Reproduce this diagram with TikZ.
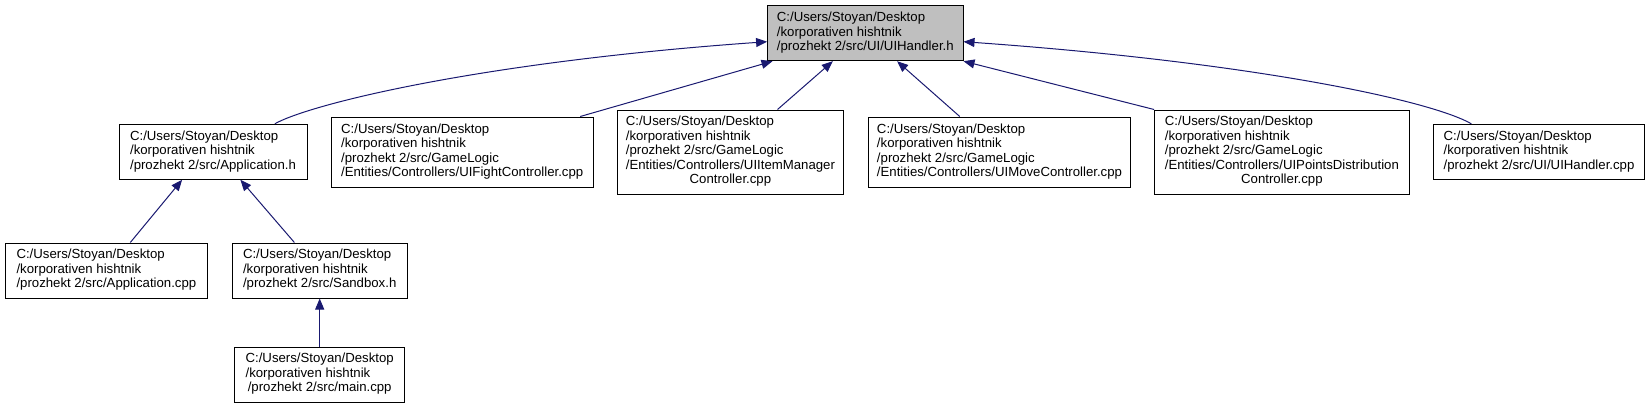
\documentclass[tikz,border=0pt]{standalone}
\usepackage{fontspec}
\setmainfont{Liberation Sans}
\usetikzlibrary{arrows.meta}
\definecolor{edgeblue}{HTML}{191970}
\definecolor{rootgray}{HTML}{BFBFBF}
\newcommand{\lbl}[2]{\begin{tabular}{@{}l@{}}#1\\\multicolumn{1}{@{}c@{}}{#2}\end{tabular}}
\begin{document}
\begin{tikzpicture}[x=1pt,y=-1pt,
  box/.style={draw=black, line width=1pt, inner sep=0pt, fill=white,
    font=\fontsize{13.2}{14.5}\selectfont},
  edge/.style={draw=edgeblue, line width=1pt, -{Triangle[length=11pt,width=9pt]}}]
\useasboundingbox (0,0) rectangle (1651,408);
\node[box, fill=rootgray, minimum width=195.4pt, minimum height=55pt] (root) at (865.3,33.2)
  {\lbl{C:/Users/Stoyan/Desktop\\/korporativen hishtnik}{/prozhekt 2/src/UI/UIHandler.h}};
\node[box, minimum width=188pt, minimum height=55pt] (appH) at (213,151.8)
  {\lbl{C:/Users/Stoyan/Desktop\\/korporativen hishtnik}{/prozhekt 2/src/Application.h}};
\node[box, minimum width=261.6pt, minimum height=70pt] (fight) at (462.2,152)
  {\lbl{C:/Users/Stoyan/Desktop\\/korporativen hishtnik\\/prozhekt 2/src/GameLogic}{/Entities/Controllers/UIFightController.cpp}};
\node[box, minimum width=226.8pt, minimum height=84pt] (item) at (730.4,152)
  {\lbl{C:/Users/Stoyan/Desktop\\/korporativen hishtnik\\/prozhekt 2/src/GameLogic\\/Entities/Controllers/UIItemManager}{Controller.cpp}};
\node[box, minimum width=262.5pt, minimum height=70pt] (move) at (999.5,152)
  {\lbl{C:/Users/Stoyan/Desktop\\/korporativen hishtnik\\/prozhekt 2/src/GameLogic}{/Entities/Controllers/UIMoveController.cpp}};
\node[box, minimum width=254.6pt, minimum height=84pt] (points) at (1281.9,152)
  {\lbl{C:/Users/Stoyan/Desktop\\/korporativen hishtnik\\/prozhekt 2/src/GameLogic\\/Entities/Controllers/UIPointsDistribution}{Controller.cpp}};
\node[box, minimum width=210.7pt, minimum height=55pt] (uicpp) at (1539,151.8)
  {\lbl{C:/Users/Stoyan/Desktop\\/korporativen hishtnik}{/prozhekt 2/src/UI/UIHandler.cpp}};
\node[box, minimum width=202.2pt, minimum height=55pt] (appcpp) at (106.4,270.5)
  {\lbl{C:/Users/Stoyan/Desktop\\/korporativen hishtnik}{/prozhekt 2/src/Application.cpp}};
\node[box, minimum width=174.6pt, minimum height=55pt] (sandbox) at (319.7,270.5)
  {\lbl{C:/Users/Stoyan/Desktop\\/korporativen hishtnik}{/prozhekt 2/src/Sandbox.h}};
\node[box, minimum width=170.5pt, minimum height=55pt] (mainc) at (319.7,374.5)
  {\lbl{C:/Users/Stoyan/Desktop\\/korporativen hishtnik}{/prozhekt 2/src/main.cpp}};
% edges
\draw[edge] ([xshift=156.3pt]appH.north west) .. controls (310,104) and (480,62) .. ([yshift=-8.5pt]root.west);
\draw[edge] ([xshift=-13.3pt]fight.north east) -- ([xshift=5.4pt]root.south west);
\draw[edge] ([xshift=161pt]item.north west) -- ([xshift=65.7pt]root.south west);
\draw[edge] ([xshift=92pt]move.north west) -- ([xshift=130pt]root.south west);
\draw[edge] (points.north west) -- (root.south east);
\draw[edge] ([xshift=38.2pt]uicpp.north west) .. controls (1430,100) and (1250,62) .. ([yshift=-8.5pt]root.east);
\draw[edge] ([xshift=125.5pt]appcpp.north west) -- ([xshift=63.6pt]appH.south west);
\draw[edge] ([xshift=62.5pt]sandbox.north west) -- ([xshift=121.9pt]appH.south west);
\draw[edge] (mainc.north) -- (sandbox.south);
\end{tikzpicture}
\end{document}
